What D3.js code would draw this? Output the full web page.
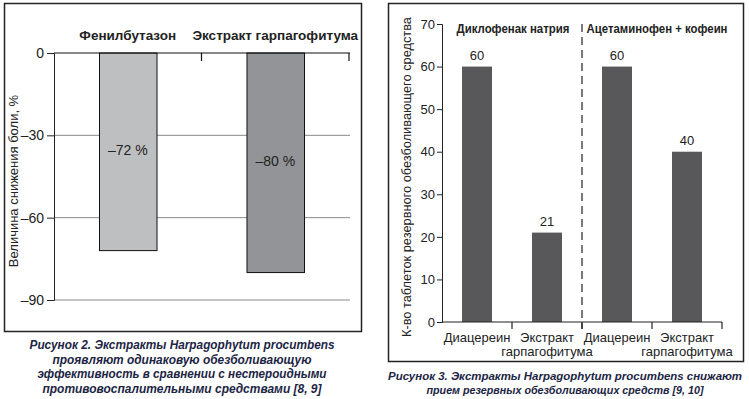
<!DOCTYPE html>
<html>
<head>
<meta charset="utf-8">
<script src="https://cdn.jsdelivr.net/npm/d3@7"></script>
<style>
  body { margin: 0; background: #fff; }
  svg { display: block; }
  text { font-family: "Liberation Sans", Arial, sans-serif; fill: #222; }
  .caption { font-family: "Liberation Sans", Arial, sans-serif; font-weight: bold; font-style: italic; fill: #1c2544; }
</style>
</head>
<body>
<div id="chart"></div>
<script>
// Figure 2: pain reduction, %
const leftCategories = ["Фенилбутазон", "Экстракт гарпагофитума"];
const leftValues = [-72, -80];
const leftLabels = ["–72 %", "–80 %"];
const leftTicks = [0, -30, -60, -90];
const leftTickLabels = ["0", "–30", "–60", "–90"];

// Figure 3: number of rescue analgesic tablets
const rightGroups = ["Диклофенак натрия", "Ацетаминофен + кофеин"];
const rightCategories = ["Диацереин", "Экстракт|гарпагофитума", "Диацереин", "Экстракт|гарпагофитума"];
const rightValues = [60, 21, 60, 40];
const rightTicks = [0, 10, 20, 30, 40, 50, 60, 70];

const leftCaption = [
  "Рисунок 2. Экстракты Harpagophytum procumbens",
  "проявляют одинаковую обезболивающую",
  "эффективность в сравнении с нестероидными",
  "противовоспалительными средствами [8, 9]"
];
const rightCaption = [
  "Рисунок 3. Экстракты Harpagophytum procumbens снижают",
  "прием резервных обезболивающих средств [9, 10]"
];

const svg = d3.select("#chart").append("svg")
    .attr("width", 749)
    .attr("height", 399);

// ---------- left chart ----------
svg.append("rect")
    .attr("x", 4.5).attr("y", 3.5).attr("width", 357).attr("height", 328)
    .attr("fill", "none").attr("stroke", "#222").attr("stroke-width", 1.5);

const lx = d3.scaleBand().domain(leftCategories).range([54, 349]).padding(0);
const ly = d3.scaleLinear().domain([0, -90]).range([53, 300]);
const lColors = ["#bebfc1", "#939497"];

const L = svg.append("g");

// grid lines
L.selectAll(".grid")
  .data(leftTicks.filter(d => d !== 0))
  .enter().append("line")
    .attr("x1", 54).attr("x2", 350)
    .attr("y1", d => ly(d)).attr("y2", d => ly(d))
    .attr("stroke", "#8a8a8a").attr("stroke-width", 1);

// left axis
const lAxis = L.append("g")
    .attr("transform", "translate(54,0)")
    .call(d3.axisLeft(ly).tickValues(leftTicks).tickSize(7).tickFormat((d, i) => leftTickLabels[i]));
lAxis.select(".domain").attr("stroke", "#222");
lAxis.selectAll(".tick line").attr("stroke", "#222");
lAxis.selectAll("text")
    .attr("x", -10)
    .style("font-family", "Liberation Sans, Arial, sans-serif")
    .style("font-size", "14px").attr("fill", "#222");

// bars
const lbw = lx.bandwidth() * 0.39;
L.selectAll(".lbar")
  .data(leftValues)
  .enter().append("rect")
    .attr("x", (d, i) => lx(leftCategories[i]) + lx.bandwidth() / 2 - lbw / 2 + 0.5)
    .attr("y", ly(0))
    .attr("width", lbw)
    .attr("height", d => ly(d) - ly(0))
    .attr("fill", (d, i) => lColors[i])
    .attr("stroke", "#111").attr("stroke-width", 1);

// top (zero) axis line with band ticks
L.append("line")
    .attr("x1", 54).attr("x2", 350)
    .attr("y1", ly(0)).attr("y2", ly(0))
    .attr("stroke", "#111").attr("stroke-width", 1.2);
L.selectAll(".btick")
  .data(leftCategories)
  .enter().append("line")
    .attr("x1", d => lx(d) + lx.bandwidth())
    .attr("x2", d => lx(d) + lx.bandwidth())
    .attr("y1", ly(0)).attr("y2", ly(0) + 8)
    .attr("stroke", "#111").attr("stroke-width", 1.2);

// category labels
L.selectAll(".lcat")
  .data(leftCategories)
  .enter().append("text")
    .attr("x", d => lx(d) + lx.bandwidth() / 2)
    .attr("y", 40)
    .attr("text-anchor", "middle")
    .style("font-weight", "bold").style("font-size", "13.5px")
    .text(d => d);

// value labels, centred in the bar
L.selectAll(".lval")
  .data(leftValues)
  .enter().append("text")
    .attr("x", (d, i) => lx(leftCategories[i]) + lx.bandwidth() / 2)
    .attr("y", d => ly(d / 2) + 3)
    .attr("text-anchor", "middle")
    .style("font-size", "14px")
    .text((d, i) => leftLabels[i]);

// y label
L.append("text")
    .attr("transform", "translate(18,181) rotate(-90)")
    .attr("text-anchor", "middle")
    .style("font-size", "13px")
    .text("Величина снижения боли, %");

// caption
L.selectAll(".lcap")
  .data(leftCaption)
  .enter().append("text")
    .attr("class", "caption")
    .attr("x", 182)
    .attr("y", (d, i) => 349 + i * 14.6)
    .attr("text-anchor", "middle")
    .style("font-size", "12.5px")
    .attr("textLength", (d, i) => [305, 259, 289, 279][i])
    .attr("lengthAdjust", "spacingAndGlyphs")
    .text(d => d);

// ---------- right chart ----------
svg.append("rect")
    .attr("x", 388.5).attr("y", 3.5).attr("width", 355).attr("height", 358)
    .attr("fill", "none").attr("stroke", "#222").attr("stroke-width", 1.5);

const ids = rightCategories.map((d, i) => i);
const rx = d3.scaleBand().domain(ids).range([442, 722]).padding(0);
const ry = d3.scaleLinear().domain([0, 70]).range([322, 24]);

const R = svg.append("g");

const rAxis = R.append("g")
    .attr("transform", "translate(442,0)")
    .call(d3.axisLeft(ry).tickValues(rightTicks).tickSize(5).tickFormat(d3.format("d")));
rAxis.select(".domain").attr("stroke", "#222");
rAxis.selectAll(".tick line").attr("stroke", "#222");
rAxis.selectAll("text")
    .attr("x", -7)
    .style("font-family", "Liberation Sans, Arial, sans-serif")
    .style("font-size", "13px").attr("fill", "#333");

// bars
const rbw = 30;
R.selectAll(".rbar")
  .data(rightValues)
  .enter().append("rect")
    .attr("x", (d, i) => rx(i) + rx.bandwidth() / 2 - rbw / 2)
    .attr("y", d => ry(d))
    .attr("width", rbw)
    .attr("height", d => ry(0) - ry(d))
    .attr("fill", "#58585a");

// value labels
R.selectAll(".rval")
  .data(rightValues)
  .enter().append("text")
    .attr("x", (d, i) => rx(i) + rx.bandwidth() / 2)
    .attr("y", d => ry(d) - 7)
    .attr("text-anchor", "middle")
    .style("font-size", "13px").attr("fill", "#333")
    .text(d => d);

// x axis with band boundary ticks
R.append("line")
    .attr("x1", 442).attr("x2", 722)
    .attr("y1", ry(0)).attr("y2", ry(0))
    .attr("stroke", "#222").attr("stroke-width", 1.2);
R.selectAll(".xtick")
  .data(ids)
  .enter().append("line")
    .attr("x1", d => rx(d) + rx.bandwidth())
    .attr("x2", d => rx(d) + rx.bandwidth())
    .attr("y1", ry(0)).attr("y2", ry(0) + 7)
    .attr("stroke", "#222").attr("stroke-width", 1.2);

// x labels (two lines)
R.selectAll(".xlab")
  .data(rightCategories)
  .enter().append("text")
    .attr("text-anchor", "middle")
    .style("font-size", "13px").attr("fill", "#333")
    .each(function(d, i) {
      const parts = d.split("|");
      d3.select(this).selectAll("tspan")
        .data(parts)
        .enter().append("tspan")
          .attr("x", rx(i) + rx.bandwidth() / 2)
          .attr("y", (p, j) => 342 + j * 14)
          .text(p => p);
    });

// dashed separator between groups
R.append("line")
    .attr("x1", rx(2)).attr("x2", rx(2))
    .attr("y1", ry(70)).attr("y2", ry(0) + 7)
    .attr("stroke", "#222").attr("stroke-width", 1.2)
    .attr("stroke-dasharray", "8,5");

// group labels
R.selectAll(".rgrp")
  .data(rightGroups)
  .enter().append("text")
    .attr("x", (d, i) => rx(i * 2) + rx.bandwidth() + (i === 1 ? 5 : 1))
    .attr("y", 33)
    .attr("text-anchor", "middle")
    .style("font-weight", "bold").style("font-size", "13px")
    .attr("textLength", (d, i) => [113, 141][i])
    .attr("lengthAdjust", "spacingAndGlyphs")
    .text(d => d);

// y label
R.append("text")
    .attr("transform", "translate(411,177) rotate(-90)")
    .attr("text-anchor", "middle")
    .style("font-size", "13px").attr("fill", "#333")
    .attr("textLength", 320)
    .attr("lengthAdjust", "spacingAndGlyphs")
    .text("К-во таблеток резервного обезболивающего средства");

// caption
R.selectAll(".rcap")
  .data(rightCaption)
  .enter().append("text")
    .attr("class", "caption")
    .attr("x", 565)
    .attr("y", (d, i) => 380 + i * 14)
    .attr("text-anchor", "middle")
    .style("font-size", "11px")
    .attr("textLength", (d, i) => [354, 277][i])
    .attr("lengthAdjust", "spacingAndGlyphs")
    .text(d => d);
</script>
</body>
</html>
